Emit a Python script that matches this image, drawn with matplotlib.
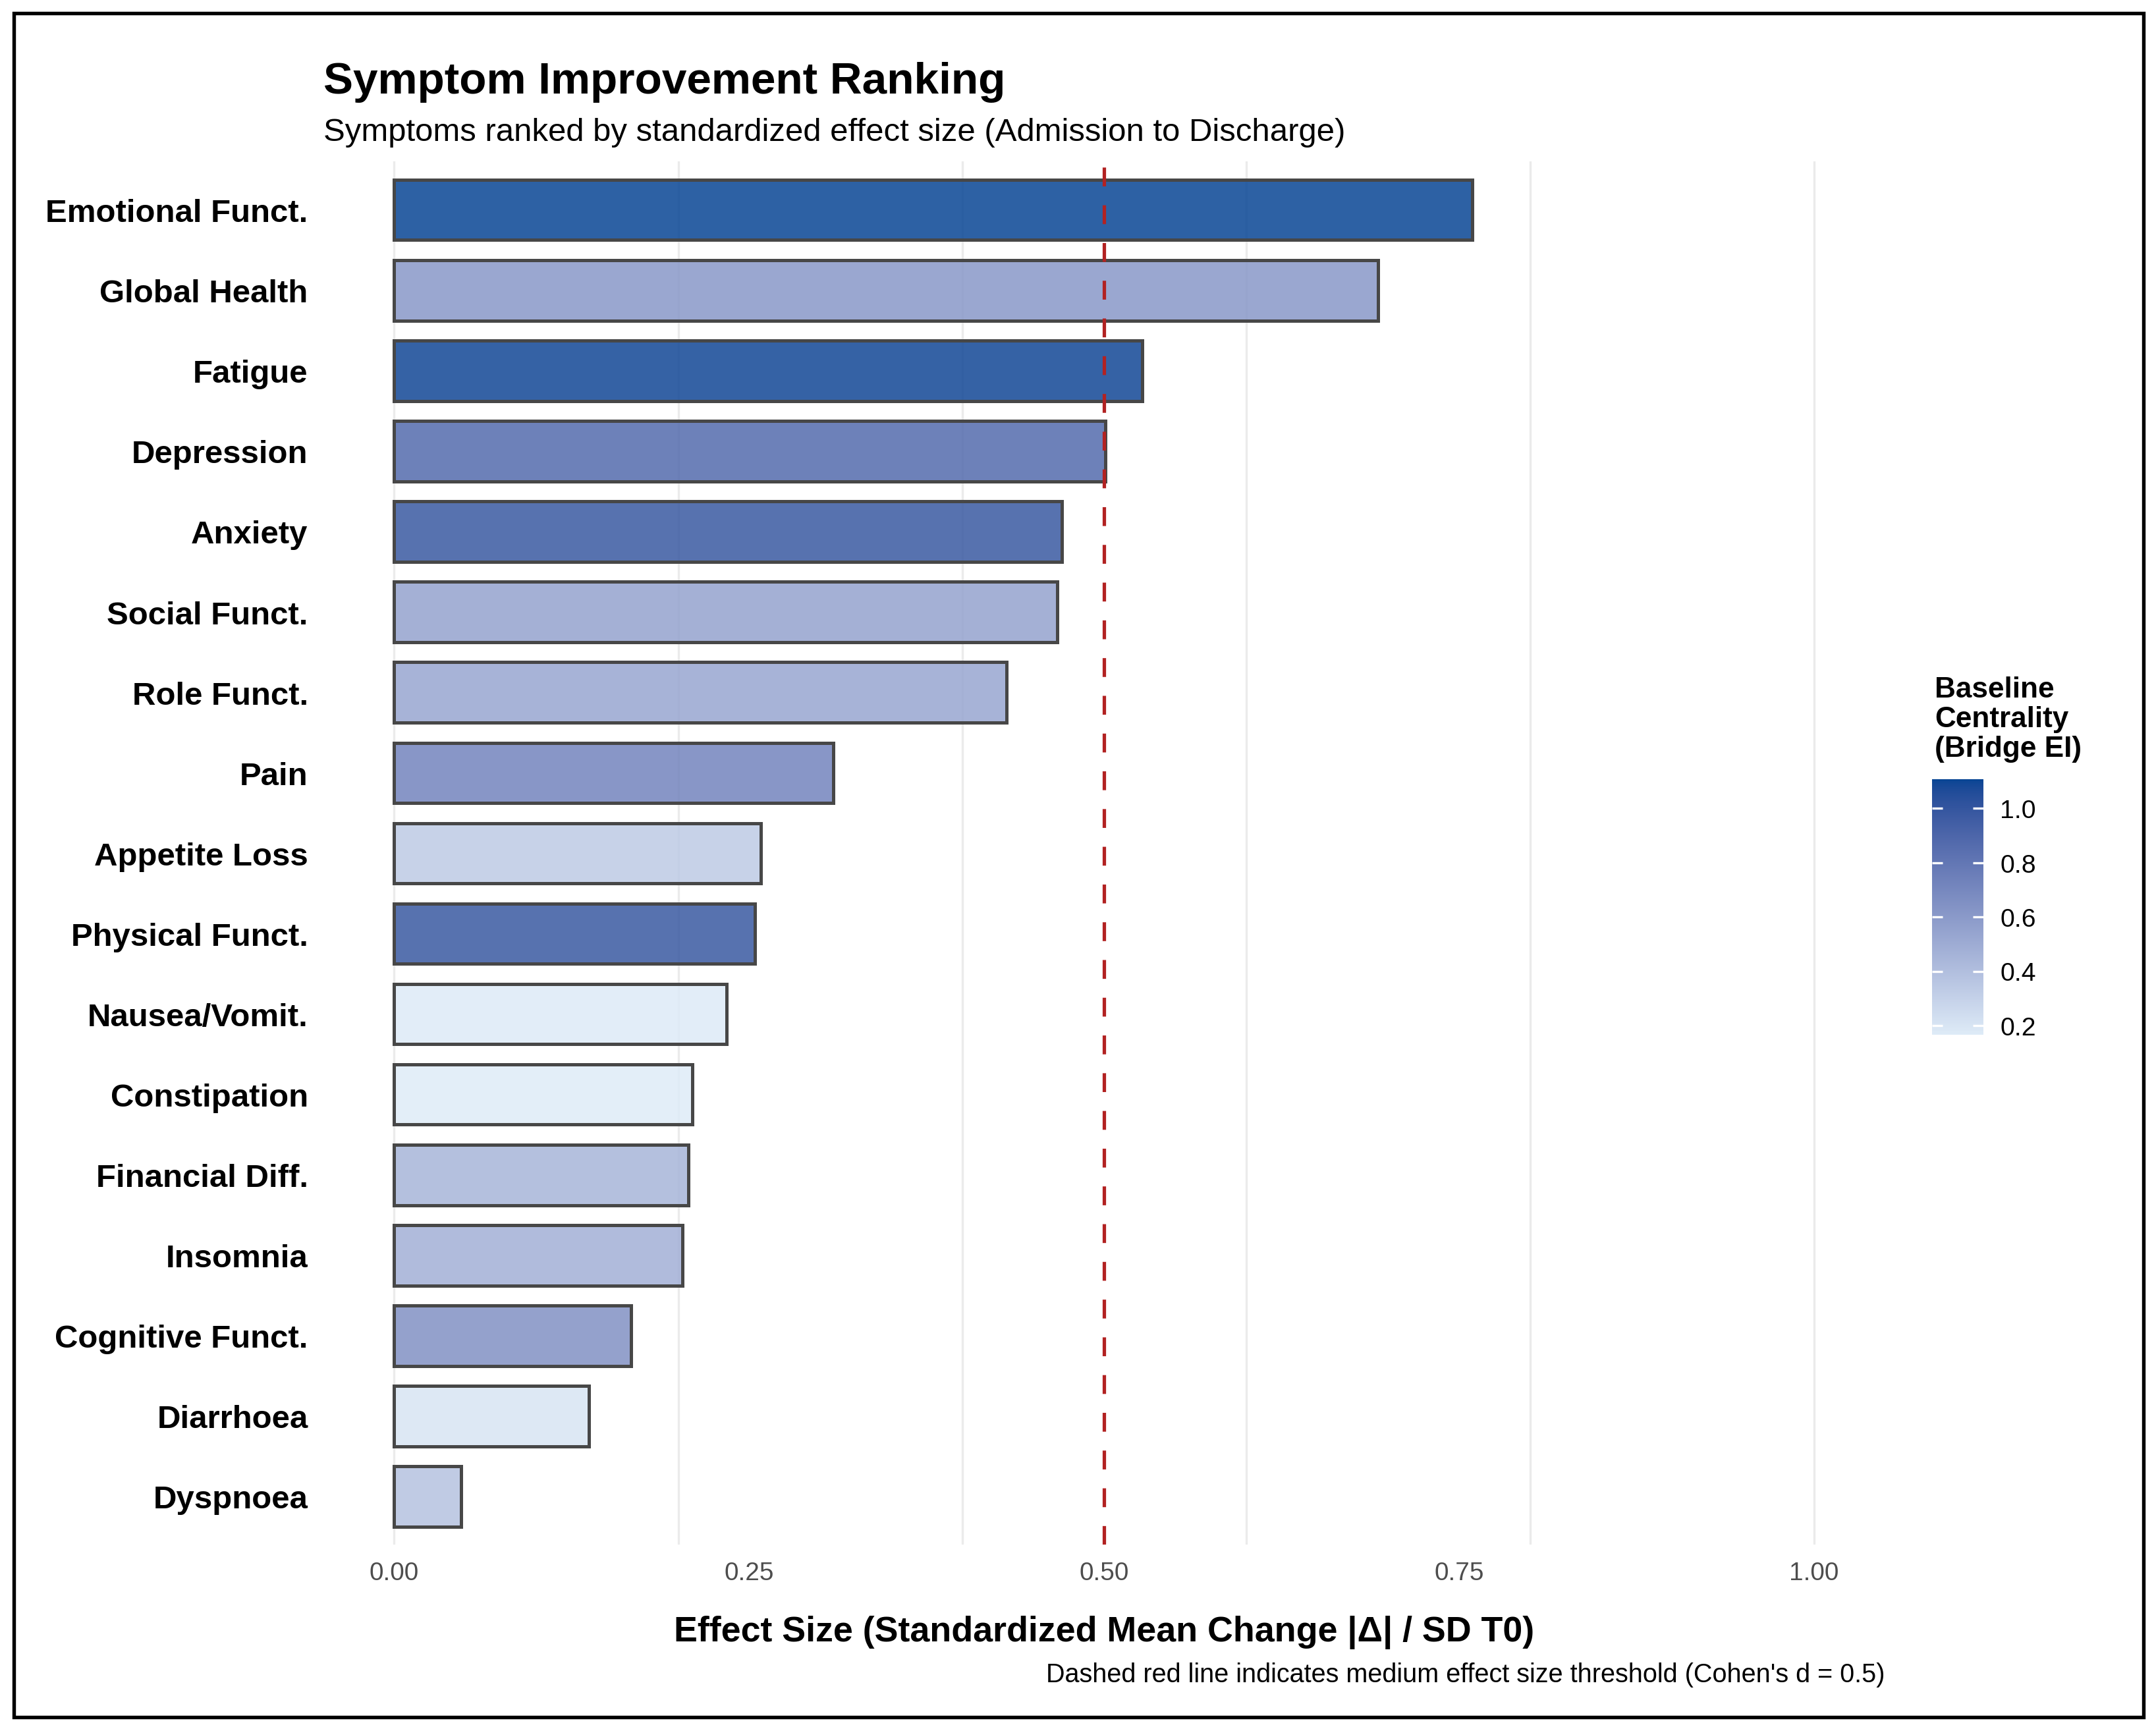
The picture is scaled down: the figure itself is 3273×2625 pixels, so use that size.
#!/usr/bin/env python3
"""Symptom improvement ranking: effect size bars coloured by baseline centrality."""

import matplotlib

matplotlib.use("Agg")
import matplotlib.pyplot as plt
from matplotlib.colors import ListedColormap, Normalize, to_rgb
from matplotlib.cm import ScalarMappable
from matplotlib.patches import Rectangle
import numpy as np

symptoms = [
    "Emotional Funct.", "Global Health", "Fatigue", "Depression", "Anxiety",
    "Social Funct.", "Role Funct.", "Pain", "Appetite Loss", "Physical Funct.",
    "Nausea/Vomit.", "Constipation", "Financial Diff.", "Insomnia",
    "Cognitive Funct.", "Diarrhoea", "Dyspnoea",
]
effect_size = [
    0.759, 0.693, 0.527, 0.501, 0.470, 0.467, 0.431, 0.309, 0.258, 0.254,
    0.234, 0.210, 0.207, 0.203, 0.167, 0.137, 0.047,
]
centrality = [
    1.107, 0.61, 1.09, 0.87, 0.98, 0.55, 0.53, 0.72, 0.34, 0.98,
    0.17, 0.166, 0.45, 0.48, 0.65, 0.20, 0.38,
]
x_breaks = [0.0, 0.25, 0.50, 0.75, 1.00]
grid_breaks = [0.0, 0.2, 0.4, 0.6, 0.8, 1.0]
cbar_breaks = [0.2, 0.4, 0.6, 0.8, 1.0]
threshold = 0.5

LOW = "#DEEBF7"
HIGH = "#084594"


# ggplot-style gradient: interpolate in CIE Lab
def _srgb_to_lin(c):
    c = np.asarray(c, dtype=float)
    return np.where(c <= 0.04045, c / 12.92, ((c + 0.055) / 1.055) ** 2.4)


def _lin_to_srgb(c):
    c = np.clip(c, 0, 1)
    return np.where(c <= 0.0031308, 12.92 * c, 1.055 * c ** (1 / 2.4) - 0.055)


M = np.array([[0.4124, 0.3576, 0.1805], [0.2126, 0.7152, 0.0722], [0.0193, 0.1192, 0.9505]])
WHITE = np.array([0.95047, 1.0, 1.08883])


def rgb_to_lab(rgb):
    xyz = M @ _srgb_to_lin(rgb) / WHITE
    f = np.where(xyz > 0.008856, np.cbrt(xyz), 7.787 * xyz + 16 / 116)
    return np.array([116 * f[1] - 16, 500 * (f[0] - f[1]), 200 * (f[1] - f[2])])


def lab_to_rgb(lab):
    fy = (lab[0] + 16) / 116
    fx = fy + lab[1] / 500
    fz = fy - lab[2] / 200
    f = np.array([fx, fy, fz])
    xyz = np.where(f ** 3 > 0.008856, f ** 3, (f - 16 / 116) / 7.787) * WHITE
    return _lin_to_srgb(np.linalg.inv(M) @ xyz)


lab_lo = rgb_to_lab(to_rgb(LOW))
lab_hi = rgb_to_lab(to_rgb(HIGH))
cmap = ListedColormap([lab_to_rgb(lab_lo + t * (lab_hi - lab_lo)) for t in np.linspace(0, 1, 256)])
norm = Normalize(vmin=min(centrality), vmax=max(centrality))

plt.rcParams["font.family"] = ["Liberation Sans", "DejaVu Sans"]

fig = plt.figure(figsize=(10.91, 8.753), dpi=300)
ax = fig.add_axes([0.1499, 0.1065, 0.7245, 0.7997])

ypos = np.arange(len(symptoms))
bars = ax.barh(
    ypos,
    effect_size,
    height=0.75,
    color=[cmap(norm(v)) for v in centrality],
    linewidth=1.2,
    zorder=2,
)
# alpha only on the fill, like geom_col
for patch in bars:
    fc = patch.get_facecolor()
    patch.set_facecolor((*fc[:3], 0.85))
    patch.set_edgecolor("#474747")

for g in grid_breaks:
    ax.axvline(g, color="#EBEBEB", lw=0.8, zorder=0)
ax.axvline(threshold, color="#B22222", lw=1.25, dashes=(5.5, 5.5), zorder=3)

ax.set_xlim(-0.05, 1.05)
ax.set_ylim(len(symptoms) - 0.4, -0.6)
ax.set_yticks(ypos, symptoms, fontsize=11.8, fontweight="bold")
ax.set_xticks(x_breaks, [f"{b:.2f}" for b in x_breaks], fontsize=9.3, color="#4D4D4D")
ax.tick_params(axis="y", length=0, pad=5.5)
ax.tick_params(axis="x", length=0, pad=6)
for spine in ax.spines.values():
    spine.set_visible(False)

ax.set_xlabel("Effect Size (Standardized Mean Change |Δ| / SD T0)", fontsize=12.9,
              fontweight="bold", labelpad=11)

fig.text(0.1499, 0.946, "Symptom Improvement Ranking", fontsize=16.2, fontweight="bold",
         va="baseline", ha="left")
fig.text(0.1499, 0.9185, "Symptoms ranked by standardized effect size (Admission to Discharge)",
         fontsize=11.8, va="baseline", ha="left")
fig.text(0.8744, 0.0274, "Dashed red line indicates medium effect size threshold (Cohen's d = 0.5)",
         fontsize=9.5, va="baseline", ha="right")

# colour legend
cax = fig.add_axes([0.8961, 0.4014, 0.0239, 0.1477])
sm = ScalarMappable(norm=norm, cmap=cmap)
cbar = fig.colorbar(sm, cax=cax, ticks=cbar_breaks)
cbar.outline.set_visible(False)
cbar.ax.set_yticklabels([f"{b:.1f}" for b in cbar_breaks])
cbar.ax.tick_params(direction="in", length=3.8, width=0.8, color="white", left=True,
                    right=True, labelsize=9.4, pad=6)
fig.text(0.8973, 0.6089, "Baseline\nCentrality\n(Bridge EI)", fontsize=10.6,
         fontweight="bold", va="top", ha="left", linespacing=1.13)

# outer frame
fig.patches.append(Rectangle((0.0064, 0.0069), 0.9878, 0.9851, transform=fig.transFigure,
                             fill=False, edgecolor="black", lw=1.3))

fig.savefig("out.png", dpi=300, facecolor="white")
